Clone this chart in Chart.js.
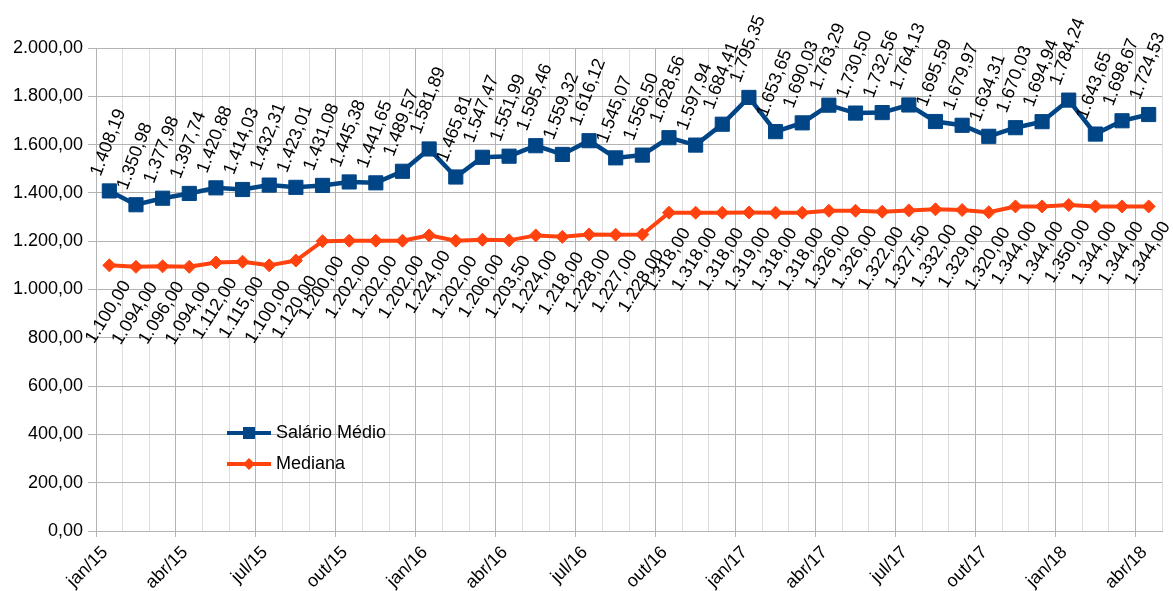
<!DOCTYPE html>
<html>
<head>
<meta charset="utf-8">
<script src="https://cdn.jsdelivr.net/npm/chart.js@4/dist/chart.umd.min.js"></script>
<style>
  html, body { margin: 0; padding: 0; background: #fff; }
  #wrap { width: 1173px; height: 591px; }
</style>
</head>
<body>
<div id="wrap"><canvas id="chart" width="1173" height="591"></canvas></div>
<script>
// meses (jan/15 .. abr/18)
const months = [
  'jan/15','fev/15','mar/15','abr/15','mai/15','jun/15','jul/15','ago/15','set/15','out/15','nov/15','dez/15',
  'jan/16','fev/16','mar/16','abr/16','mai/16','jun/16','jul/16','ago/16','set/16','out/16','nov/16','dez/16',
  'jan/17','fev/17','mar/17','abr/17','mai/17','jun/17','jul/17','ago/17','set/17','out/17','nov/17','dez/17',
  'jan/18','fev/18','mar/18','abr/18'
];

const salarioMedio = [
  1408.19, 1350.98, 1377.98, 1397.74, 1420.88, 1414.03, 1432.31, 1423.01, 1431.08, 1445.38, 1441.65, 1489.57,
  1581.89, 1465.81, 1547.47, 1551.99, 1595.46, 1559.32, 1616.12, 1545.07, 1556.50, 1628.56, 1597.94, 1684.41,
  1795.35, 1653.65, 1690.03, 1763.29, 1730.50, 1732.56, 1764.13, 1695.59, 1679.97, 1634.31, 1670.03, 1694.94,
  1784.24, 1643.65, 1698.67, 1724.53
];

const mediana = [
  1100.00, 1094.00, 1096.00, 1094.00, 1112.00, 1115.00, 1100.00, 1120.00, 1200.00, 1202.00, 1202.00, 1202.00,
  1224.00, 1202.00, 1206.00, 1203.50, 1224.00, 1218.00, 1228.00, 1227.00, 1228.00, 1318.00, 1318.00, 1318.00,
  1319.00, 1318.00, 1318.00, 1326.00, 1326.00, 1322.00, 1327.50, 1332.00, 1329.00, 1320.00, 1344.00, 1344.00,
  1350.00, 1344.00, 1344.00, 1344.00
];

const yTicks = { min: 0, max: 2000, step: 200 };

const AZUL = '#004586';
const LARANJA = '#ff420e';
const FONTE = '"Liberation Sans", Arial, sans-serif';

// formato pt-BR: 1.408,19
function fmt(v) {
  const parts = Number(v).toFixed(2).split('.');
  return parts[0].replace(/\B(?=(\d{3})+(?!\d))/g, '.') + ',' + parts[1];
}

function isMajor(v) {
  const k = v + 0.5;
  return Math.abs(k - Math.round(k)) < 1e-6 && Math.round(k) % 3 === 0;
}

// rótulos de dados girados (acima p/ série 1, abaixo p/ série 2)
const rotuloPlugin = {
  id: 'rotulos',
  afterDatasetsDraw(chart) {
    const ctx = chart.ctx;
    ctx.save();
    ctx.font = '18px ' + FONTE;
    ctx.fillStyle = '#000';
    ctx.textAlign = 'center';
    ctx.textBaseline = 'middle';
    chart.data.datasets.forEach((ds, di) => {
      const meta = chart.getDatasetMeta(di);
      const ang = ds.labelAngle * Math.PI / 180;
      const dir = ds.labelSide === 'above' ? -1 : 1;
      meta.data.forEach((pt, i) => {
        const txt = fmt(ds.data[i].y);
        const w = ctx.measureText(txt).width;
        const h = 15;
        const bh = w * Math.sin(ang) + h * Math.cos(ang);
        const cy = pt.y + dir * (13 + bh / 2);
        ctx.save();
        ctx.translate(pt.x - 1, cy);
        ctx.rotate(-ang);
        ctx.fillText(txt, 0, 0);
        ctx.restore();
      });
    });
    ctx.restore();
  }
};

// legenda dentro da área do gráfico
const legendaPlugin = {
  id: 'legendaInterna',
  afterDraw(chart) {
    const ctx = chart.ctx;
    const a = chart.chartArea;
    const x0 = a.left + 131;
    let y = a.top + 385;
    ctx.save();
    chart.data.datasets.forEach((ds) => {
      ctx.strokeStyle = ds.borderColor;
      ctx.lineWidth = 4;
      ctx.beginPath();
      ctx.moveTo(x0, y);
      ctx.lineTo(x0 + 44, y);
      ctx.stroke();
      ctx.fillStyle = ds.borderColor;
      const cx = x0 + 22;
      ctx.beginPath();
      if (ds.pointStyle === 'rect') {
        ctx.rect(cx - 6, y - 6, 12, 12);
      } else {
        ctx.moveTo(cx - 6, y);
        ctx.lineTo(cx, y - 6);
        ctx.lineTo(cx + 6, y);
        ctx.lineTo(cx, y + 6);
        ctx.closePath();
      }
      ctx.fill();
      ctx.fillStyle = '#000';
      ctx.font = '18px ' + FONTE;
      ctx.textAlign = 'left';
      ctx.textBaseline = 'middle';
      ctx.fillText(ds.label, x0 + 49, y);
      y += 31;
    });
    ctx.restore();
  }
};

const chart = new Chart(document.getElementById('chart'), {
  type: 'line',
  data: {
    datasets: [
      {
        label: 'Salário Médio',
        data: salarioMedio.map((v, i) => ({ x: i, y: v })),
        borderColor: AZUL,
        backgroundColor: AZUL,
        borderWidth: 4.5,
        pointStyle: 'rect',
        pointRadius: 10,
        pointBorderWidth: 1,
        tension: 0,
        labelAngle: 69,
        labelSide: 'above'
      },
      {
        label: 'Mediana',
        data: mediana.map((v, i) => ({ x: i, y: v })),
        borderColor: LARANJA,
        backgroundColor: LARANJA,
        borderWidth: 4,
        pointStyle: 'rectRot',
        pointRadius: 6.5,
        pointBorderWidth: 1,
        tension: 0,
        labelAngle: 58,
        labelSide: 'below'
      }
    ]
  },
  options: {
    responsive: false,
    animation: false,
    layout: { padding: { top: 48, right: 10, left: 12, bottom: 0 } },
    plugins: { legend: { display: false }, tooltip: { enabled: false } },
    scales: {
      x: {
        type: 'linear',
        min: -0.5,
        max: months.length - 0.5,
        afterFit: s => { s.height = 60; s.paddingLeft = 0; s.paddingRight = 0; },
        grid: {
          color: c => isMajor(c.tick.value) ? '#b3b3b3' : '#dddddd',
          tickColor: c => isMajor(c.tick.value) ? '#b3b3b3' : 'rgba(0,0,0,0)',
          tickLength: 6,
          lineWidth: 1
        },
        border: { color: '#b3b3b3' },
        ticks: {
          stepSize: 1,
          maxTicksLimit: 100,
          autoSkip: false,
          maxRotation: 45,
          minRotation: 45,
          padding: 5,
          labelOffset: 9,
          color: '#000',
          font: { family: FONTE, size: 18 },
          callback: v => isMajor(v) ? months[Math.round(v + 0.5)] : ''
        }
      },
      y: {
        min: yTicks.min,
        max: yTicks.max,
        afterFit: s => { s.width = 84; },
        grid: { color: '#b3b3b3', tickLength: 8 },
        border: { color: '#b3b3b3' },
        ticks: {
          stepSize: yTicks.step,
          padding: 5,
          color: '#000',
          font: { family: FONTE, size: 18 },
          callback: v => fmt(v)
        }
      }
    }
  },
  plugins: [rotuloPlugin, legendaPlugin]
});
</script>
</body>
</html>
